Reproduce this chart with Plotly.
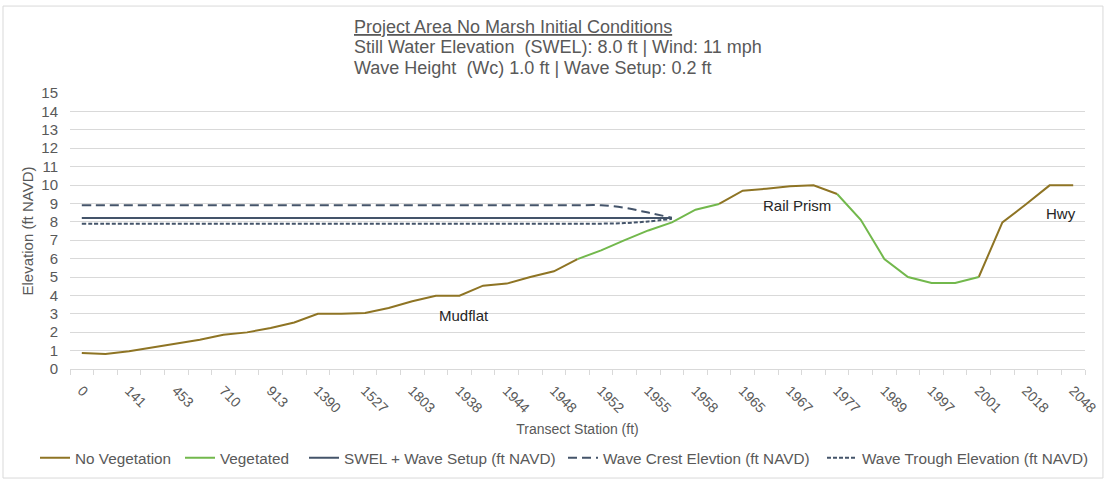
import plotly.graph_objects as go

# ---------------- data ----------------
station_labels = ["0", "141", "453", "710", "913", "1390", "1527", "1803", "1938", "1944",
                  "1948", "1952", "1955", "1958", "1965", "1967", "1977", "1989", "1997",
                  "2001", "2018", "2048"]  # shown on every other category

n_points = 43
point_index = list(range(n_points))

no_vegetation = [0.87, 0.81, 0.97, 1.17, 1.41, 1.59, 1.86, 1.99, 2.23, 2.53,
                 3.00, 3.00, 3.05, 3.32, 3.68, 3.98, 3.98, 4.53, 4.64, 5.00,
                 5.31, 5.97, None, None, None, None, None, 8.97, 9.69, 9.80,
                 9.93, 9.98, 9.51, None, None, None, None, None, 5.00, 7.97,
                 8.95, 9.98, 9.98]

vegetated = [None, None, None, None, None, None, None, None, None, None,
             None, None, None, None, None, None, None, None, None, None,
             None, 5.97, 6.45, 7.00, 7.53, 7.97, 8.66, 8.97, None, None,
             None, None, 9.51, 8.11, 5.98, 5.00, 4.67, 4.67, 5.00, None,
             None, None, None]

swel_setup = [8.2, 8.2, 8.2, 8.2, 8.2, 8.2, 8.2, 8.2, 8.2, 8.2,
              8.2, 8.2, 8.2, 8.2, 8.2, 8.2, 8.2, 8.2, 8.2, 8.2,
              8.2, 8.2, 8.2, 8.2, 8.2, 8.2]

wave_crest = [8.9, 8.9, 8.9, 8.9, 8.9, 8.9, 8.9, 8.9, 8.9, 8.9,
              8.9, 8.9, 8.9, 8.9, 8.9, 8.9, 8.9, 8.9, 8.9, 8.9,
              8.9, 8.9, 8.9, 8.76, 8.5, 8.22]

wave_trough = [7.9, 7.9, 7.9, 7.9, 7.9, 7.9, 7.9, 7.9, 7.9, 7.9,
               7.9, 7.9, 7.9, 7.9, 7.9, 7.9, 7.9, 7.9, 7.9, 7.9,
               7.9, 7.9, 7.9, 7.93, 8.02, 8.16]

labels_text = ["Mudflat", "Rail Prism", "Hwy"]
labels_x = [16.2, 30.3, 41.5]
labels_y = [2.9, 8.87, 8.45]

title_lines = ["<u>Project Area No Marsh Initial Conditions</u>",
               "Still Water Elevation  (SWEL): 8.0 ft | Wind: 11 mph",
               "Wave Height  (Wc) 1.0 ft | Wave Setup: 0.2 ft"]

# ---------------- styles ----------------
FONT = "Liberation Sans, Arial, sans-serif"
GRAY = "#595959"
GRID = "#D9D9D9"
C_NOVEG = "#8E7424"
C_VEG = "#72B84C"
C_WAVE = "#44546A"

L, R, T, B, W, H = 70, 26, 93, 112, 1111, 481
PW = W - L - R

def px_x(p):
    return (p - L) / PW

legend_starts_px = [35, 180, 304, 563, 822]   # legend item left edges (pixels)

fig = go.Figure()
fig.add_trace(go.Scatter(x=point_index, y=no_vegetation, mode="lines", name="No Vegetation",
                         line=dict(color=C_NOVEG, width=2), legend="legend"))
fig.add_trace(go.Scatter(x=point_index, y=vegetated, mode="lines", name="Vegetated",
                         line=dict(color=C_VEG, width=2), legend="legend2"))
fig.add_trace(go.Scatter(x=point_index[:len(swel_setup)], y=swel_setup, mode="lines",
                         name="SWEL + Wave Setup (ft NAVD)",
                         line=dict(color=C_WAVE, width=2), legend="legend3"))
fig.add_trace(go.Scatter(x=point_index[:len(wave_crest)], y=wave_crest, mode="lines",
                         name="Wave Crest Elevtion (ft NAVD)",
                         line=dict(color=C_WAVE, width=2, dash="9px,5px", shape="spline"),
                         legend="legend4"))
fig.add_trace(go.Scatter(x=point_index[:len(wave_trough)], y=wave_trough, mode="lines",
                         name="Wave Trough Elevation (ft NAVD)",
                         line=dict(color=C_WAVE, width=2, dash="4px,2px", shape="spline"),
                         legend="legend5"))

for t, x, y in zip(labels_text, labels_x, labels_y):
    fig.add_annotation(x=x, y=y, text=t, showarrow=False,
                       font=dict(family=FONT, size=15, color="#262626"))

# title (three lines)
for line, ypos in zip(title_lines, [1.239, 1.168, 1.089]):
    fig.add_annotation(xref="paper", yref="paper", x=px_x(352), y=ypos, xanchor="left",
                       yanchor="middle", showarrow=False, text=line,
                       font=dict(family=FONT, size=18, color=GRAY))

# chart border
fig.add_shape(type="rect", xref="paper", yref="paper",
              x0=-0.066, x1=1.0177, y0=-0.395, y1=1.315,
              line=dict(color="#D9D9D9", width=1))

tick_positions = [2 * i for i in range(len(station_labels))]
boundaries = [i - 0.5 for i in range(n_points + 1)]

legend_base = dict(orientation="h", xanchor="left", y=-0.322, yanchor="middle",
                   font=dict(family=FONT, size=15.3, color=GRAY), itemwidth=30,
                   bgcolor="rgba(0,0,0,0)")
legends = {}
for k, sx in enumerate(legend_starts_px):
    key = "legend" if k == 0 else f"legend{k + 1}"
    legends[key] = dict(legend_base, x=px_x(sx))

fig.update_layout(
    width=W, height=H,
    margin=dict(l=L, r=R, t=T, b=B, autoexpand=False),
    paper_bgcolor="white", plot_bgcolor="white",
    font=dict(family=FONT, size=14, color=GRAY),
    showlegend=True,
    xaxis=dict(range=[-0.5, n_points - 0.5], tickmode="array", tickvals=tick_positions,
               ticktext=station_labels, tickangle=45, showgrid=False, zeroline=False,
               showline=True, linecolor=GRID, linewidth=1, ticks="",
               ticklabelstandoff=7,
               tickfont=dict(family=FONT, size=14, color=GRAY),
               minor=dict(tickmode="array", tickvals=boundaries, ticks="outside", ticklen=5,
                          tickcolor=GRID, showgrid=False),
               title=dict(text="Transect Station (ft)", standoff=9,
                          font=dict(family=FONT, size=14, color=GRAY))),
    yaxis=dict(range=[0, 15], dtick=1, showgrid=True, gridcolor=GRID, gridwidth=1,
               zeroline=False, showline=False, ticks="", ticklabelstandoff=11,
               tickfont=dict(family=FONT, size=15, color=GRAY),
               title=dict(text="Elevation (ft NAVD)", standoff=4,
                          font=dict(family=FONT, size=15, color=GRAY))),
    **legends,
)

fig.write_html("out.html", post_script="document.body.style.margin='0';",
               config={"displayModeBar": False})
